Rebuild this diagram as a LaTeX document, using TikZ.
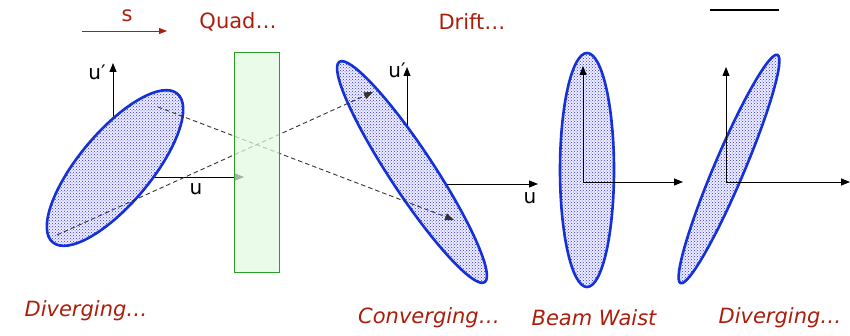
\documentclass[tikz,border=0pt]{standalone}
\usepackage{fontspec}
\setmainfont{DejaVu Sans}
\usetikzlibrary{arrows.meta,patterns}
\definecolor{labred}{RGB}{172,30,12}
\definecolor{beamblue}{RGB}{20,50,210}
\definecolor{quadfill}{RGB}{226,250,226}
\definecolor{quaddraw}{RGB}{40,160,40}
\tikzset{
  beam/.style={draw=beamblue, line width=2.6pt, fill=blue!6, postaction={pattern=crosshatch dots, pattern color=blue!85}},
  axis/.style={black, line width=0.8pt, -{Triangle[length=9pt,width=7pt]}},
  ray/.style={black!80, line width=0.9pt, dash pattern=on 4.5pt off 3pt, -{Triangle[length=9pt,width=7pt]}},
  redlab/.style={text=labred, font=\fontsize{21}{24}\selectfont\itshape, inner sep=0pt},
  toplab/.style={text=labred, font=\fontsize{21}{24}\selectfont, inner sep=0pt},
  axlab/.style={font=\fontsize{20}{22}\selectfont, inner sep=0pt},
}
\begin{document}
\begin{tikzpicture}[x=1pt,y=-1pt]
\useasboundingbox (0,0) rectangle (850,336);
% axes 1 and 2 (under the beams)
\coordinate (o1) at (113,177);
\coordinate (o2) at (407,184);
\draw[axis] (o1) -- (113,63);
\draw[axis] (o1) -- (244,177);
\draw[axis] (o2) -- (407,67);
\draw[axis] (o2) -- (538,184);
% beams
\path[beam, rotate around={50:(115,168)}] (115,168) ellipse [x radius=97, y radius=36];
\path[beam, rotate around={-56.6:(412,172)}] (412,172) ellipse [x radius=132, y radius=22];
\path[beam] (587,170) ellipse [x radius=27, y radius=117];
\path[beam, rotate around={67:(729,169)}] (729,169) ellipse [x radius=124, y radius=15];
% axes 3 and 4 (over the beams)
\coordinate (o3) at (583,182);
\coordinate (o4) at (726,182);
\draw[axis] (o3) -- (583,66);
\draw[axis] (o3) -- (683,182);
\draw[axis] (o4) -- (726,67);
\draw[axis] (o4) -- (850,182);
% rays
\coordinate (r1a) at (57,235);
\coordinate (r1b) at (373,92);
\coordinate (r2a) at (158,107);
\coordinate (r2b) at (454,220);
\draw[ray] (r1a) -- (r1b);
\draw[ray] (r2a) -- (r2b);
% quadrupole
\node[draw=quaddraw, line width=1pt, fill=quadfill, fill opacity=0.72, minimum width=45pt, minimum height=220pt, inner sep=0pt] (quad) at (256.5,163) {};
% s arrow
\coordinate (sa) at (82,31);
\coordinate (sb) at (167,31);
\draw[labred, line width=0.8pt, -{Triangle[length=8pt,width=6pt]}] (sa) -- (sb);
\node[toplab] (s) at (127,16) {s};
\node[toplab] (tquad) at (238,22) {Quad…};
\node[toplab] (tdrift) at (472,22) {Drift…};
\coordinate (ta) at (710,10);
\coordinate (tb) at (779,10);
\draw[black, line width=1.6pt] (ta) -- (tb);
% axis labels
\node[axlab] (up1) at (97,72) {u′};
\node[axlab] (u1) at (196,189) {u};
\node[axlab] (up2) at (397,70) {u′};
\node[axlab] (u2) at (530,198) {u};
% bottom labels
\node[redlab] (l1) at (86,311) {Diverging…};
\node[redlab] (l2) at (429,318) {Converging…};
\node[redlab] (l3) at (594,318) {Beam Waist};
\node[redlab] (l4) at (780,318) {Diverging…};
\end{tikzpicture}
\end{document}
